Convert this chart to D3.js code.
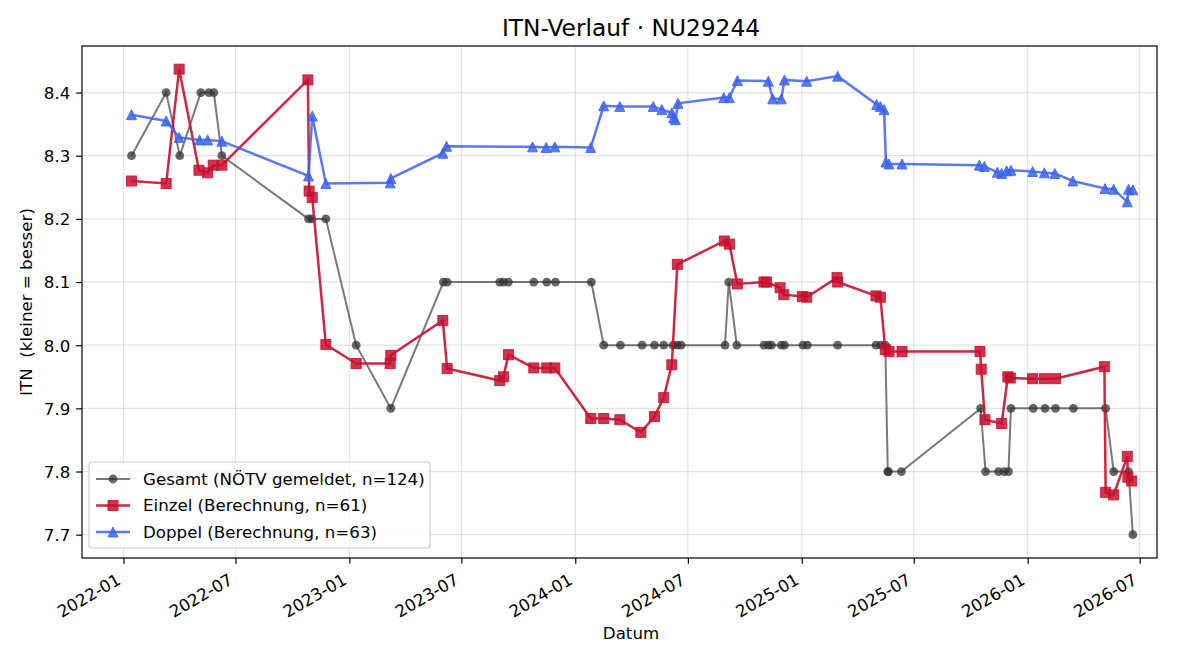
<!DOCTYPE html>
<html>
<head>
<meta charset="utf-8">
<script src="https://cdn.jsdelivr.net/npm/d3@7/dist/d3.min.js"></script>
<style>
  html, body { margin: 0; padding: 0; background: #fff; }
  svg { display: block; font-family: "DejaVu Sans", sans-serif; }
</style>
</head>
<body>
<svg id="chart" width="1200" height="660"></svg>
<script>
const gesamtDates = ["2022-01-14","2022-03-11","2022-04-02","2022-05-06","2022-05-19","2022-05-27","2022-06-09","2022-10-27","2022-11-01","2022-11-24","2023-01-12","2023-03-09","2023-06-02","2023-06-08","2023-09-01","2023-09-07","2023-09-15","2023-10-26","2023-11-16","2023-11-30","2024-01-27","2024-02-16","2024-03-14","2024-04-18","2024-05-08","2024-05-23","2024-06-07","2024-06-14","2024-06-20","2024-08-30","2024-09-05","2024-09-18","2024-11-01","2024-11-08","2024-11-13","2024-11-29","2024-12-04","2025-01-03","2025-01-10","2025-02-28","2025-05-01","2025-05-09","2025-05-16","2025-05-20","2025-05-21","2025-06-11","2025-10-17","2025-10-25","2025-11-15","2025-11-24","2025-12-01","2025-12-05","2026-01-10","2026-01-29","2026-02-15","2026-03-16","2026-05-07","2026-05-20","2026-06-13","2026-06-20"];
const gesamtValues = [8.3,8.4,8.3,8.4,8.4,8.4,8.3,8.2,8.2,8.2,8.0,7.9,8.1,8.1,8.1,8.1,8.1,8.1,8.1,8.1,8.1,8.0,8.0,8.0,8.0,8.0,8.0,8.0,8.0,8.0,8.1,8.0,8.0,8.0,8.0,8.0,8.0,8.0,8.0,8.0,8.0,8.0,8.0,7.8,7.8,7.8,7.9,7.8,7.8,7.8,7.8,7.9,7.9,7.9,7.9,7.9,7.9,7.8,7.8,7.7];

const einzelDates = ["2022-01-14","2022-03-11","2022-04-01","2022-05-03","2022-05-17","2022-05-26","2022-06-09","2022-10-26","2022-10-28","2022-11-02","2022-11-24","2023-01-12","2023-03-08","2023-03-09","2023-06-01","2023-06-08","2023-09-01","2023-09-07","2023-09-15","2023-10-26","2023-11-16","2023-11-29","2024-01-26","2024-02-16","2024-03-13","2024-04-16","2024-05-08","2024-05-23","2024-06-05","2024-06-14","2024-08-29","2024-09-06","2024-09-19","2024-11-01","2024-11-05","2024-11-27","2024-12-03","2025-01-02","2025-01-09","2025-02-27","2025-02-28","2025-05-01","2025-05-08","2025-05-16","2025-05-22","2025-06-12","2025-10-16","2025-10-18","2025-10-24","2025-11-20","2025-11-30","2025-12-04","2026-01-09","2026-01-28","2026-02-15","2026-05-05","2026-05-07","2026-05-20","2026-06-11","2026-06-12","2026-06-18"];
const einzelValues = [8.260,8.256,8.437,8.277,8.273,8.285,8.285,8.420,8.244,8.234,8.001,7.971,7.971,7.984,8.039,7.963,7.944,7.950,7.985,7.964,7.964,7.964,7.884,7.884,7.882,7.862,7.887,7.917,7.969,8.128,8.165,8.160,8.097,8.100,8.100,8.091,8.080,8.077,8.076,8.107,8.100,8.078,8.076,7.993,7.990,7.990,7.990,7.962,7.882,7.876,7.950,7.948,7.947,7.947,7.947,7.966,7.767,7.763,7.824,7.791,7.785];

const doppelDates = ["2022-01-14","2022-03-11","2022-04-01","2022-05-04","2022-05-17","2022-06-09","2022-10-27","2022-11-02","2022-11-24","2023-03-08","2023-03-09","2023-06-01","2023-06-07","2023-10-24","2023-11-15","2023-11-29","2024-01-26","2024-02-16","2024-03-13","2024-05-06","2024-05-20","2024-06-05","2024-06-08","2024-06-11","2024-06-15","2024-08-28","2024-09-06","2024-09-19","2024-11-08","2024-11-15","2024-11-29","2024-12-04","2025-01-09","2025-02-28","2025-05-02","2025-05-08","2025-05-14","2025-05-17","2025-05-22","2025-06-12","2025-10-15","2025-10-23","2025-11-13","2025-11-20","2025-11-28","2025-12-05","2026-01-09","2026-01-28","2026-02-14","2026-03-15","2026-05-06","2026-05-20","2026-06-11","2026-06-13","2026-06-20"];
const doppelValues = [8.365,8.355,8.329,8.325,8.325,8.323,8.268,8.363,8.256,8.257,8.264,8.304,8.315,8.314,8.313,8.314,8.313,8.379,8.378,8.378,8.373,8.368,8.360,8.357,8.383,8.392,8.392,8.419,8.418,8.390,8.390,8.420,8.418,8.426,8.381,8.378,8.373,8.290,8.287,8.287,8.285,8.283,8.274,8.272,8.276,8.277,8.275,8.273,8.272,8.260,8.248,8.247,8.227,8.247,8.246];

const xTickDates = ["2022-01-01","2022-07-01","2023-01-01","2023-07-01","2024-01-01","2024-07-01","2025-01-01","2025-07-01","2026-01-01","2026-07-01"];
const yTickValues = [7.7,7.8,7.9,8.0,8.1,8.2,8.3,8.4];

const titleText = "ITN-Verlauf · NU29244";
const xLabelText = "Datum";
const yLabelText = "ITN  (kleiner = besser)";
const legendLabels = ["Gesamt (NÖTV gemeldet, n=124)", "Einzel (Berechnung, n=61)", "Doppel (Berechnung, n=63)"];

const parse = d3.utcParse("%Y-%m-%d");
const fmt = d3.utcFormat("%Y-%m");

const M = {left: 82, right: 1157, top: 46, bottom: 558};
const FS = "16.67px";
const textCenter = 631;
const svg = d3.select("#chart");

const x = d3.scaleUtc().domain([parse("2021-10-26"), parse("2026-07-29")]).range([M.left, M.right]);
const y = d3.scaleLinear().domain([7.6631, 8.4737]).range([M.bottom, M.top]);

// grid
const grid = svg.append("g");
xTickDates.forEach(d => {
  grid.append("line").attr("x1", x(parse(d))).attr("x2", x(parse(d)))
    .attr("y1", M.top).attr("y2", M.bottom).attr("stroke", "#b0b0b0").attr("stroke-opacity", 0.35).attr("stroke-width", 1.2);
});
yTickValues.forEach(v => {
  grid.append("line").attr("x1", M.left).attr("x2", M.right)
    .attr("y1", y(v)).attr("y2", y(v)).attr("stroke", "#b0b0b0").attr("stroke-opacity", 0.35).attr("stroke-width", 1.2);
});

// axes
const xAxis = d3.axisBottom(x).tickValues(xTickDates.map(parse)).tickFormat(fmt).tickSize(5.8).tickSizeOuter(0);
const gx = svg.append("g").attr("transform", `translate(0,${M.bottom})`).call(xAxis);
gx.select(".domain").remove();
gx.selectAll(".tick line").attr("stroke", "#000").attr("stroke-width", 1.2);
gx.selectAll(".tick text").attr("font-size", FS).attr("fill", "#000")
  .attr("text-anchor", "end").attr("y", 0).attr("dy", 0)
  .attr("transform", "translate(-2,25.2) rotate(-30)")
  .attr("font-family", "DejaVu Sans");

const yAxis = d3.axisLeft(y).tickValues(yTickValues).tickFormat(d3.format(".1f")).tickSize(5.8).tickSizeOuter(0);
const gy = svg.append("g").attr("transform", `translate(${M.left},0)`).call(yAxis);
gy.select(".domain").remove();
gy.selectAll(".tick line").attr("stroke", "#000").attr("stroke-width", 1.2);
gy.selectAll(".tick text").attr("font-size", FS).attr("fill", "#000").attr("x", -11.7)
  .attr("dy", "0.35em").attr("font-family", "DejaVu Sans");

// series
function mk(dates, vals) { return dates.map((d, i) => ({d: parse(d), v: vals[i]})); }
const gesamt = mk(gesamtDates, gesamtValues);
const einzel = mk(einzelDates, einzelValues);
const doppel = mk(doppelDates, doppelValues);

const line = d3.line().x(p => x(p.d)).y(p => y(p.v));

const plot = svg.append("g");
// Gesamt
plot.append("path").datum(gesamt).attr("d", line).attr("fill", "none")
  .attr("stroke", "#333").attr("stroke-opacity", 0.65).attr("stroke-width", 2);
plot.append("g").selectAll("circle").data(gesamt).join("circle")
  .attr("cx", p => x(p.d)).attr("cy", p => y(p.v)).attr("r", 4.4)
  .attr("fill", "#333").attr("fill-opacity", 0.75);

// Einzel
const red = "#c8102e";
plot.append("path").datum(einzel).attr("d", line).attr("fill", "none")
  .attr("stroke", red).attr("stroke-opacity", 0.9).attr("stroke-width", 2.5);
const sq = 10;
plot.append("g").selectAll("rect").data(einzel).join("rect")
  .attr("x", p => x(p.d) - sq/2).attr("y", p => y(p.v) - sq/2).attr("width", sq).attr("height", sq)
  .attr("fill", red).attr("fill-opacity", 0.85).attr("stroke", red).attr("stroke-opacity", 0.85).attr("stroke-width", 1);

// Doppel
const blue = "#3d63f0";
plot.append("path").datum(doppel).attr("d", line).attr("fill", "none")
  .attr("stroke", blue).attr("stroke-opacity", 0.85).attr("stroke-width", 2.5);
const tw = 10, th = 10;
const triPath = `M0,${-th/2}L${tw/2},${th/2}L${-tw/2},${th/2}Z`;
plot.append("g").selectAll("path").data(doppel).join("path")
  .attr("d", triPath).attr("transform", p => `translate(${x(p.d)},${y(p.v)})`)
  .attr("fill", blue).attr("fill-opacity", 0.85).attr("stroke", blue).attr("stroke-opacity", 0.85).attr("stroke-width", 1);

// frame
svg.append("rect").attr("x", M.left).attr("y", M.top).attr("width", M.right - M.left).attr("height", M.bottom - M.top)
  .attr("fill", "none").attr("stroke", "#000").attr("stroke-width", 1.2);

// title & labels
svg.append("text").attr("x", textCenter).attr("y", 36).attr("text-anchor", "middle")
  .attr("font-size", "23.3px").attr("fill", "#000").text(titleText);
svg.append("text").attr("x", textCenter).attr("y", 639).attr("text-anchor", "middle")
  .attr("font-size", FS).attr("fill", "#000").text(xLabelText);
svg.append("text").attr("transform", `translate(32,${(M.top + M.bottom) / 2}) rotate(-90)`).attr("text-anchor", "middle")
  .attr("font-size", FS).attr("fill", "#000").style("white-space", "pre").text(yLabelText);

// legend
const lg = svg.append("g");
lg.append("rect").attr("x", 89).attr("y", 462).attr("width", 341).attr("height", 86).attr("rx", 3)
  .attr("fill", "#fff").attr("fill-opacity", 0.8).attr("stroke", "#cccccc").attr("stroke-width", 1.2);
const rows = [479, 505.5, 532];
const styles = [
  {c: "#333", lo: 0.65, mo: 0.75, lw: 2, m: "circle"},
  {c: red, lo: 0.9, mo: 0.85, lw: 2.5, m: "square"},
  {c: blue, lo: 0.85, mo: 0.85, lw: 2.5, m: "tri"}
];
rows.forEach((ry, i) => {
  const s = styles[i];
  lg.append("line").attr("x1", 96).attr("x2", 130).attr("y1", ry).attr("y2", ry)
    .attr("stroke", s.c).attr("stroke-opacity", s.lo).attr("stroke-width", s.lw);
  if (s.m === "circle") {
    lg.append("circle").attr("cx", 113).attr("cy", ry).attr("r", 4.4).attr("fill", s.c).attr("fill-opacity", s.mo);
  } else if (s.m === "square") {
    lg.append("rect").attr("x", 113 - sq/2).attr("y", ry - sq/2).attr("width", sq).attr("height", sq)
      .attr("fill", s.c).attr("fill-opacity", s.mo).attr("stroke", s.c).attr("stroke-opacity", s.mo);
  } else {
    lg.append("path").attr("d", triPath).attr("transform", `translate(113,${ry})`)
      .attr("fill", s.c).attr("fill-opacity", s.mo).attr("stroke", s.c).attr("stroke-opacity", s.mo);
  }
  lg.append("text").attr("x", 143).attr("y", ry).attr("dy", "0.35em").attr("font-size", FS)
    .attr("fill", "#000").text(legendLabels[i]);
});
</script>
</body>
</html>
